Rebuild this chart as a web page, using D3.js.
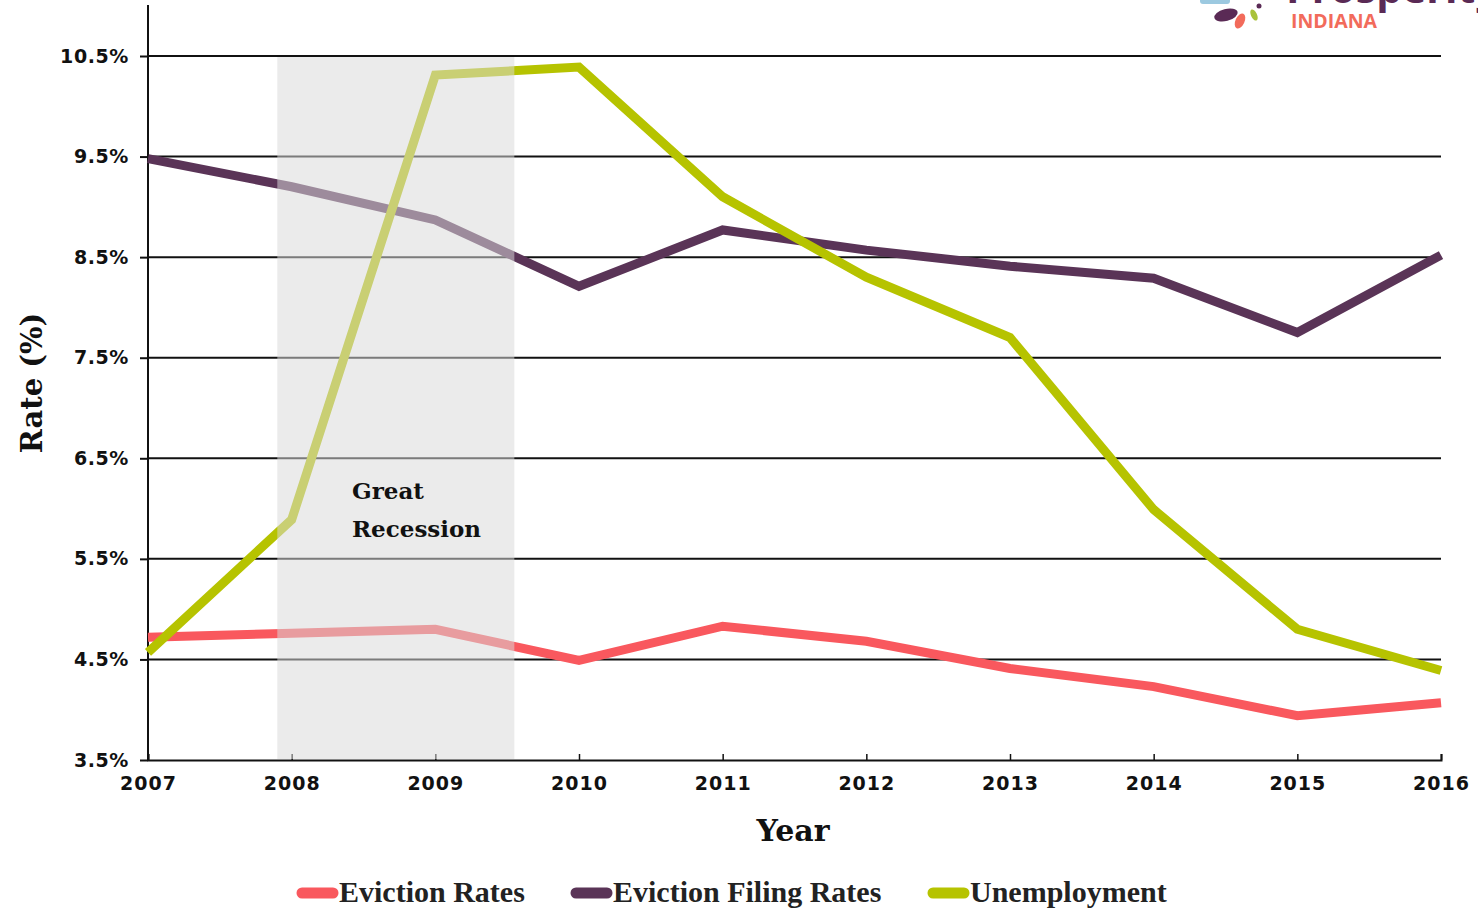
<!DOCTYPE html>
<html>
<head>
<meta charset="utf-8">
<script src="https://cdn.jsdelivr.net/npm/d3@7"></script>
<style>
  html, body { margin: 0; padding: 0; background: #fff; }
  svg { display: block; }
</style>
</head>
<body>
<svg id="chart" width="1478" height="908"></svg>
<script>
// Indiana rates, 2007–2016
const years = [2007, 2008, 2009, 2010, 2011, 2012, 2013, 2014, 2015, 2016];
const evictionRates = [4.72, 4.76, 4.80, 4.49, 4.83, 4.68, 4.41, 4.23, 3.94, 4.07];
const evictionFilingRates = [9.48, 9.20, 8.87, 8.21, 8.77, 8.57, 8.41, 8.29, 7.75, 8.52];
const unemployment = [4.57, 5.89, 10.31, 10.39, 9.10, 8.30, 7.70, 5.99, 4.80, 4.39];
const yTicks = [3.5, 4.5, 5.5, 6.5, 7.5, 8.5, 9.5, 10.5];
const recession = [2007.9, 2009.55];
const seriesNames = ["Eviction Rates", "Eviction Filing Rates", "Unemployment"];
const seriesColors = ["#f9585e", "#5a3457", "#b6c300"];

const svg = d3.select("#chart");
const plotLeft = 148, plotRight = 1441, plotTop = 56, plotBottom = 760;

const x = d3.scaleLinear().domain([2007, 2016]).range([plotLeft, plotRight]);
const y = d3.scaleLinear().domain([3.5, 10.5]).range([plotBottom, plotTop]);

// horizontal gridlines
svg.append("g")
  .selectAll("line")
  .data(yTicks.slice(1))
  .join("line")
  .attr("x1", plotLeft).attr("x2", plotRight)
  .attr("y1", d => y(d)).attr("y2", d => y(d))
  .attr("stroke", "#111").attr("stroke-width", 2);

// y axis
const yAxis = d3.axisLeft(y).tickValues(yTicks).tickSize(8).tickFormat(d => d3.format(".1f")(d) + "%");
const gy = svg.append("g").attr("transform", `translate(${plotLeft},0)`).call(yAxis);
gy.select(".domain").remove();
gy.selectAll(".tick line").attr("stroke", "#111").attr("stroke-width", 2);
gy.selectAll(".tick text")
  .attr("x", -19)
  .attr("font-family", "DejaVu Sans")
  .attr("font-weight", "bold")
  .attr("font-size", 19)
  .attr("letter-spacing", 0.6)
  .attr("fill", "#111");
svg.append("line")
  .attr("x1", plotLeft).attr("x2", plotLeft).attr("y1", 5).attr("y2", plotBottom)
  .attr("stroke", "#111").attr("stroke-width", 2);

// x axis
const xAxis = d3.axisBottom(x).tickValues(years).tickSize(-6).tickFormat(d3.format("d"));
const gx = svg.append("g").attr("transform", `translate(0,${plotBottom})`).call(xAxis);
gx.select(".domain").attr("stroke", "#111").attr("stroke-width", 2);
gx.selectAll(".tick line").attr("stroke", "#111").attr("stroke-width", 1.5);
gx.selectAll(".tick text")
  .attr("y", 17)
  .attr("font-family", "DejaVu Sans")
  .attr("font-weight", "bold")
  .attr("font-size", 19)
  .attr("letter-spacing", 1)
  .attr("fill", "#111");

// series lines
const line = d3.line().x((d, i) => x(years[i])).y(d => y(d));
const allSeries = [evictionRates, evictionFilingRates, unemployment];
svg.append("g")
  .selectAll("path")
  .data(allSeries)
  .join("path")
  .attr("d", line)
  .attr("fill", "none")
  .attr("stroke", (d, i) => seriesColors[i])
  .attr("stroke-width", 9)
  .attr("stroke-linejoin", "miter");

// recession band (translucent overlay)
svg.append("rect")
  .attr("x", x(recession[0]))
  .attr("width", x(recession[1]) - x(recession[0]))
  .attr("y", y(10.5) + 1)
  .attr("height", y(3.5) - y(10.5) - 2)
  .attr("fill", "rgb(217,217,217)")
  .attr("fill-opacity", 0.53);

const rt = svg.append("text")
  .attr("font-family", "DejaVu Serif")
  .attr("font-weight", "bold")
  .attr("font-size", 23)
  .attr("fill", "#111");
rt.append("tspan").attr("x", 352).attr("y", 499).text("Great");
rt.append("tspan").attr("x", 352).attr("y", 537).text("Recession");

// axis titles
svg.append("text")
  .attr("x", 793).attr("y", 841)
  .attr("text-anchor", "middle")
  .attr("font-family", "DejaVu Serif")
  .attr("font-weight", "bold")
  .attr("font-size", 30)
  .attr("fill", "#111")
  .text("Year");
svg.append("text")
  .attr("transform", "translate(42,383) rotate(-90)")
  .attr("text-anchor", "middle")
  .attr("font-family", "DejaVu Serif")
  .attr("font-weight", "bold")
  .attr("font-size", 29)
  .attr("fill", "#111")
  .text("Rate (%)");

// legend
const legendX = [297, 571, 928];
const lg = svg.append("g").selectAll("g").data(seriesNames).join("g")
  .attr("transform", (d, i) => `translate(${legendX[i]},893)`);
lg.append("line")
  .attr("x1", 5).attr("x2", 36).attr("y1", 0).attr("y2", 0)
  .attr("stroke", (d, i) => seriesColors[i])
  .attr("stroke-width", 11)
  .attr("stroke-linecap", "round");
lg.append("text")
  .attr("x", 42).attr("y", 9)
  .attr("font-family", "Liberation Serif")
  .attr("font-weight", "bold")
  .attr("font-size", 30)
  .attr("fill", "#222")
  .text(d => d);

// brand mark, top right
const logo = svg.append("g");
logo.append("rect").attr("x", 1200).attr("y", -6).attr("width", 30).attr("height", 10).attr("rx", 3).attr("fill", "#9cc9e0");
logo.append("ellipse").attr("cx", 1226).attr("cy", 15).attr("rx", 12).attr("ry", 6)
  .attr("transform", "rotate(-15,1226,15)").attr("fill", "#5a2a55");
logo.append("ellipse").attr("cx", 1240).attr("cy", 21).attr("rx", 4.5).attr("ry", 8)
  .attr("transform", "rotate(25,1240,21)").attr("fill", "#f26b5b");
logo.append("ellipse").attr("cx", 1254).attr("cy", 15).attr("rx", 3).attr("ry", 6)
  .attr("transform", "rotate(-25,1254,15)").attr("fill", "#a9c23a");
logo.append("circle").attr("cx", 1259).attr("cy", 6).attr("r", 2.5).attr("fill", "#5a2a55");
logo.append("text")
  .attr("x", 1286).attr("y", 3)
  .attr("font-family", "Open Sans")
  .attr("font-weight", "bold")
  .attr("font-size", 41)
  .attr("fill", "#5a2a55")
  .text("Prosperity");
logo.append("text")
  .attr("x", 1291).attr("y", 28)
  .attr("font-family", "Open Sans")
  .attr("font-weight", "bold")
  .attr("font-size", 19.5)
  .attr("fill", "#f26b5b")
  .text("INDIANA");
</script>
</body>
</html>
